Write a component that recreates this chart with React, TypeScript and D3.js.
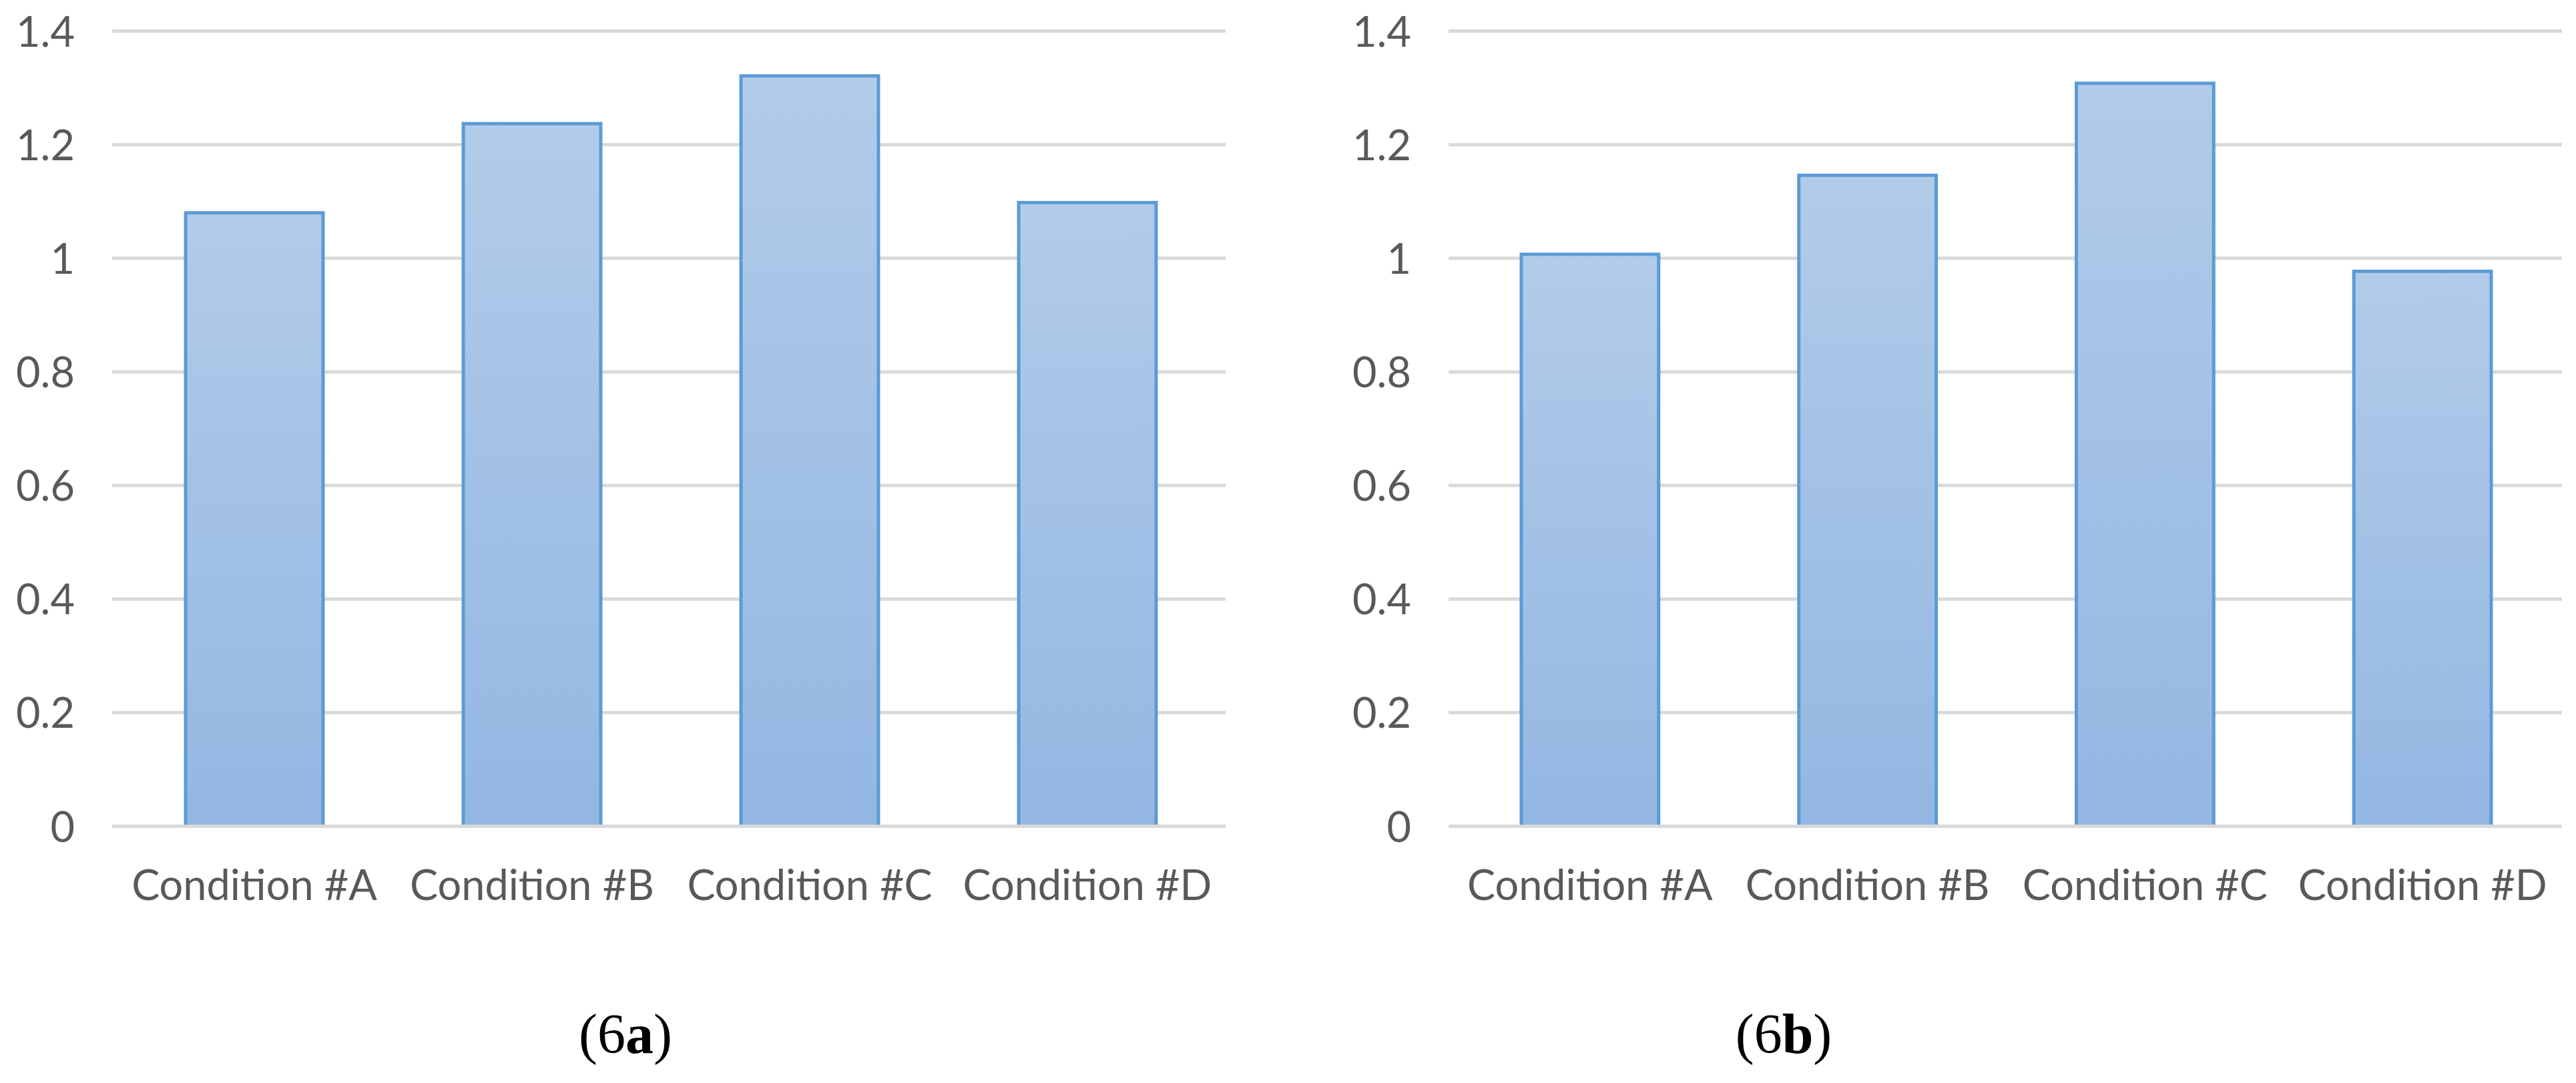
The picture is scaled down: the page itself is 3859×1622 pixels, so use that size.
import React from "react";
import * as d3 from "d3";

const categories = ["Condition #A", "Condition #B", "Condition #C", "Condition #D"];
const valuesPanelA = [1.08, 1.237, 1.321, 1.098];
const valuesPanelB = [1.007, 1.146, 1.308, 0.977];
const yTicks = [0, 0.2, 0.4, 0.6, 0.8, 1.0, 1.2, 1.4];
const yTickLabels = ["0", "0.2", "0.4", "0.6", "0.8", "1", "1.2", "1.4"];
const captionNumber = "6";
const captionLetters = ["a", "b"];

const W = 3859;
const H = 1622;
const Y0 = 1237.5;
const Y1 = 46.5;

const panels = [
  { values: valuesPanelA, letter: captionLetters[0], gridX0: 168, gridX1: 1836, bandX0: 173, bandX1: 1837, capX: 937 },
  { values: valuesPanelB, letter: captionLetters[1], gridX0: 2170, gridX1: 3838, bandX0: 2174, bandX1: 3837, capX: 2672 },
];

const LABEL_FONT = "Lato, 'Noto Sans', sans-serif";

function Panel({ p, idx }: { p: any; idx: number }) {
  const y = d3.scaleLinear().domain([0, 1.4]).range([Y0, Y1]);
  const x = d3.scaleBand<string>().domain(categories).range([p.bandX0, p.bandX1]).paddingInner(0.505).paddingOuter(0.2525);
  const gid = `barGrad${idx}`;
  return (
    <g>
      <defs>
        <linearGradient id={gid} x1="0" y1="0" x2="0" y2="1" gradientUnits="objectBoundingBox">
          <stop offset="0" stopColor="#b2cbe9" />
          <stop offset="1" stopColor="#93b7e2" />
        </linearGradient>
      </defs>
      {yTicks.map((t, i) => (
        <g key={i}>
          {t !== 0 && (
            <line x1={p.gridX0} x2={p.gridX1} y1={y(t)} y2={y(t)} stroke="#d9d9d9" strokeWidth={5} />
          )}
          <text
            x={p.gridX0 - 56}
            y={y(t) + 23}
            textAnchor="end"
            fontFamily={LABEL_FONT}
            fontSize={63}
            fill="#595959"
          >
            {yTickLabels[i]}
          </text>
        </g>
      ))}
      {categories.map((c, i) => {
        const v = p.values[i];
        const top = y(v);
        return (
          <rect
            key={c}
            x={x(c)!}
            y={top}
            width={x.bandwidth()}
            height={Y0 - top}
            fill={`url(#${gid})`}
            stroke="#5b9bd5"
            strokeWidth={5}
          />
        );
      })}
      <line x1={p.gridX0} x2={p.gridX1} y1={y(0)} y2={y(0)} stroke="#d9d9d9" strokeWidth={5} />
      {categories.map((c) => (
        <text
          key={c}
          x={x(c)! + x.bandwidth() / 2}
          y={1348}
          textAnchor="middle"
          fontFamily={LABEL_FONT}
          fontSize={63}
          fill="#595959"
        >
          {c}
        </text>
      ))}
      <text x={p.capX} y={1577} textAnchor="middle" fontFamily="'Liberation Serif', 'DejaVu Serif', serif" fontSize={84} fill="#000">
        <tspan>({captionNumber}</tspan>
        <tspan fontWeight="bold">{p.letter}</tspan>
        <tspan>)</tspan>
      </text>
    </g>
  );
}

export default function App() {
  return (
    <svg
      width={W}
      height={H}
      viewBox={`0 0 ${W} ${H}`}
      style={{ position: "absolute", left: 0, top: 0, background: "#fff" }}
    >
      <rect x={0} y={0} width={W} height={H} fill="#fff" />
      {panels.map((p, i) => (
        <Panel key={i} p={p} idx={i} />
      ))}
    </svg>
  );
}
